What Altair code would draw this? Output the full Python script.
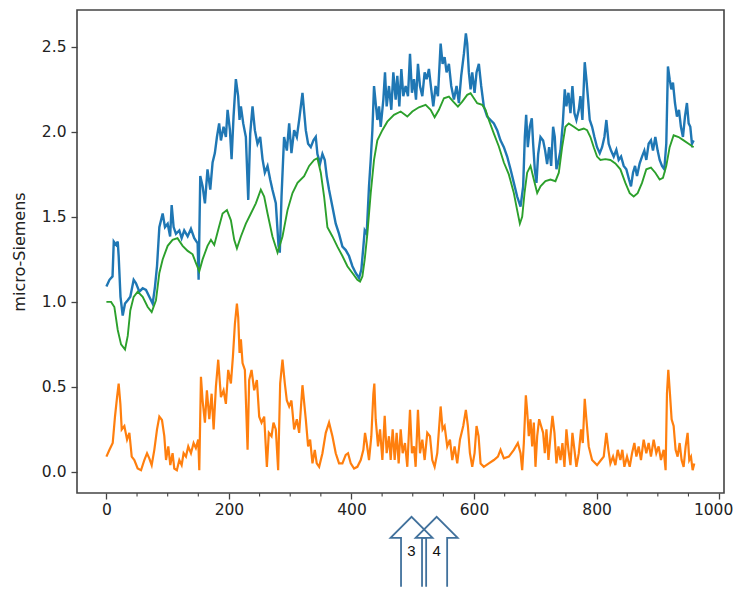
import altair as alt
import pandas as pd

# ---- data ----
blue_x = [0, 5, 10, 12, 16, 18.5, 20, 23, 26.6, 30.4, 34.8, 39, 44.5, 48.3, 53.8, 59.2, 64.6, 70, 75.5, 79.3,
          82.6, 86.4, 91.8, 95.6, 100, 104, 106.5, 109.7, 113.5, 119, 122.8, 127, 132.6, 138, 143.4, 148.9,
          150.5, 153.2, 157, 160.8, 165, 169.5, 173.3, 177, 180.4, 184, 186.9, 191.2, 195, 197.8, 201.6,
          204.3, 207.5, 211.3, 215, 217.3, 219.5, 223.3, 227.6, 231.5, 234.7, 238.5, 242.3, 246.6, 251,
          254.8, 258.6, 263, 267.3, 271, 276.5, 280.9, 283, 285.8, 290, 294.5, 298.3, 302, 306.4, 310.8,
          314.6, 320, 325.4, 329.2, 333.6, 337.9, 341.7, 344.4, 348.8, 352.6, 356.4, 359.6, 363.4, 368.9,
          374.3, 379.7, 385.2, 390.6, 396, 401.5, 406.9, 412.3, 416.1, 419.4, 421.6, 424.8, 428.6, 431.4,
          434.1, 436.8, 439.5, 442.2, 445, 447.7, 452, 454.7, 457.4, 461.2, 465, 468.3, 472.1, 474.8, 478.1,
          481.4, 484.6, 488.4, 492.2, 495.5, 498.7, 502, 505.3, 508.5, 511.8, 515.6, 519.4, 522.6, 526.4,
          530.2, 533.5, 537.3, 541.1, 545.5, 548.7, 552, 555.2, 559, 562.8, 567.2, 571.5, 575.3, 579.1,
          583.5, 586.7, 588.9, 591.6, 594.4, 597.1, 600.9, 604.1, 607.9, 611.7, 616, 621.5, 626.9, 632.4,
          637.8, 643.2, 648.7, 654.1, 659.6, 665, 670.4, 675.9, 680.2, 682.9, 685.1, 687.8, 691.1, 694.3,
          696.5, 699.2, 701.9, 704.7, 708.5, 712.8, 716.1, 719.3, 722.6, 725.9, 729.1, 731.8, 734.5, 737.3,
          741.1, 744.9, 748.1, 750.8, 754.1, 757.4, 760.6, 763.9, 767.1, 771, 773.7, 776.9, 780.7, 783.4,
          786.2, 788.9, 792.7, 796.5, 800.8, 805.2, 809, 812.8, 816, 819.8, 823.6, 828, 832.3, 836.1, 840,
          844.3, 848.6, 853, 856.2, 859.5, 862.8, 866, 870.4, 874.2, 878, 881.2, 885, 888.8, 892.1, 895.9,
          899.7, 903, 906.8, 910.6, 913.8, 916.5, 919.3, 922, 924.7, 928, 931.2, 934.5, 937.7, 941, 944.3,
          947.5, 950.3, 953, 955.7, 958.4]
blue_y = [1.09, 1.13, 1.15, 1.355, 1.335, 1.355, 1.27, 1.03, 0.92, 0.99, 1.01, 1.03, 1.13, 1.11, 1.06, 1.08, 1.07,
          1.03, 0.99, 1.09, 1.21, 1.44, 1.52, 1.44, 1.46, 1.385, 1.57, 1.44, 1.40, 1.42, 1.375, 1.42, 1.385,
          1.43, 1.375, 1.345, 1.13, 1.74, 1.68, 1.58, 1.78, 1.66, 1.82, 1.875, 1.97, 2.05, 1.95, 2.03, 1.97,
          2.13, 2.01, 1.84, 2.09, 2.31, 2.21, 2.07, 2.15, 2.05, 1.97, 1.60, 1.99, 2.15, 2.01, 1.93, 1.97,
          1.84, 1.76, 1.80, 1.72, 1.66, 1.58, 1.33, 1.29, 1.62, 1.97, 1.89, 2.05, 1.875, 2.01, 1.97, 2.07,
          2.23, 2.01, 1.93, 1.91, 1.95, 1.97, 1.87, 1.815, 1.87, 1.835, 1.74, 1.66, 1.56, 1.46, 1.40,
          1.325, 1.305, 1.27, 1.21, 1.17, 1.14, 1.19, 1.325, 1.42, 1.40, 1.68, 1.835, 2.01, 2.27, 2.17,
          2.07, 2.15, 2.03, 2.19, 2.35, 2.15, 2.27, 2.13, 2.35, 2.19, 2.33, 2.15, 2.37, 2.21, 2.27, 2.21,
          2.46, 2.23, 2.31, 2.19, 2.40, 2.27, 2.21, 2.35, 2.31, 2.37, 2.25, 2.15, 2.27, 2.21, 2.52, 2.40,
          2.44, 2.35, 2.40, 2.27, 2.19, 2.27, 2.17, 2.33, 2.46, 2.58, 2.52, 2.35, 2.25, 2.35, 2.23, 2.35,
          2.40, 2.27, 2.15, 2.09, 2.07, 2.05, 2.01, 1.95, 1.91, 1.855, 1.78, 1.70, 1.62, 1.56, 1.68, 1.97,
          2.10, 1.91, 2.03, 2.08, 1.93, 1.78, 1.70, 1.87, 1.97, 1.95, 1.89, 1.81, 1.91, 1.80, 2.03, 1.97,
          1.78, 1.82, 1.89, 2.05, 2.25, 2.15, 2.23, 2.11, 2.27, 2.11, 2.07, 2.13, 2.21, 2.07, 2.41, 2.31,
          2.19, 2.07, 2.03, 1.97, 1.91, 1.875, 1.91, 1.97, 2.07, 1.93, 1.89, 1.855, 1.895, 1.835, 1.855,
          1.80, 1.78, 1.72, 1.68, 1.76, 1.80, 1.74, 1.815, 1.855, 1.89, 1.835, 1.93, 1.95, 1.89, 1.97,
          1.89, 1.835, 1.80, 1.78, 1.93, 2.385, 2.31, 2.25, 2.29, 2.17, 2.09, 2.13, 2.03, 1.97, 2.09, 2.17,
          2.05, 2.03, 1.93, 1.95]

orange_x = [0, 5, 10.3, 14, 17.4, 20, 22.8, 25, 29.3, 33.7, 37.5, 41.3, 45.6, 51, 56.5, 61.9, 66.3, 70, 73.9,
            78.2, 82.6, 86.4, 90.7, 94.5, 97.3, 101, 104.3, 108, 110.8, 115, 119, 122.8, 126, 129.8, 133.6,
            138, 142.3, 146, 149.9, 151.6, 154.3, 157, 160.8, 164, 167.9, 171.7, 175, 178.7, 182.5, 186.9,
            191.2, 195, 198.8, 203.2, 206.5, 209.7, 213, 215.1, 217.3, 219.5, 222.2, 226, 230.4, 233, 236.9,
            241.2, 245.6, 249.4, 253.2, 257.5, 261.9, 265.1, 269.5, 272.7, 276.5, 280.3, 283.6, 287.4, 291.2,
            294.5, 298.3, 302, 306.4, 310.8, 314.6, 320, 325.4, 329.2, 332.5, 336.3, 340.1, 343.3, 347.2,
            352.6, 358, 363.4, 368.9, 374.3, 379.7, 385.2, 390.6, 394.4, 398.8, 404.2, 409.6, 415.1, 419.4,
            422.1, 424.8, 428.6, 432.4, 435.7, 437.3, 439.5, 443.3, 446.6, 450.4, 454.2, 457.4, 461.2, 464,
            467.2, 470.5, 473.7, 477, 480.3, 483.5, 487.3, 491.1, 495.5, 498.7, 502, 504.7, 508.5, 511.8,
            515.6, 519.4, 523.7, 528.1, 531.9, 535.7, 540, 545.5, 548.7, 552, 556.3, 560.7, 564.5, 568.3,
            572.6, 577, 582.4, 586.7, 590, 593.3, 597.1, 600.9, 604.1, 607.4, 610.7, 616, 624.2, 632.4, 639,
            643.3, 648.7, 656.8, 665, 671.5, 675.9, 678.6, 681.3, 684.6, 686.7, 689.4, 692.2, 694.9, 697.6,
            700.3, 703.1, 706.3, 709.5, 712.8, 715.5, 718.2, 721.5, 724.8, 728, 731.3, 734.5, 737.8, 741.1,
            744.3, 747.6, 750.8, 754.1, 757.4, 760.6, 763.9, 767.1, 771, 774.7, 777.5, 780.7, 783.4, 787.2,
            792.7, 800.8, 807.3, 811.7, 816, 819.3, 822.6, 826.9, 830.7, 834.5, 838.9, 842.1, 845.4, 849.7,
            854.1, 857.9, 861.7, 865, 868.7, 872.5, 876.9, 881.2, 885, 888.8, 893.2, 897.5, 901.3, 905.1,
            909.5, 912.7, 914.9, 917.1, 919.8, 922.5, 925.8, 929, 932.3, 935.6, 938.8, 942.1, 945.4, 948.6,
            951.3, 954.1, 956.8, 959.5]
orange_y = [0.09, 0.13, 0.17, 0.325, 0.44, 0.52, 0.40, 0.25, 0.27, 0.19, 0.23, 0.09, 0.07, 0.02, 0.01, 0.07,
            0.11, 0.08, 0.04, 0.13, 0.25, 0.325, 0.305, 0.21, 0.07, 0.15, 0.04, 0.11, 0.02, 0.01, 0.07, 0.04,
            0.11, 0.09, 0.15, 0.11, 0.17, 0.14, 0.19, 0.01, 0.56, 0.42, 0.29, 0.48, 0.31, 0.46, 0.25, 0.50,
            0.66, 0.44, 0.48, 0.40, 0.60, 0.52, 0.68, 0.87, 0.99, 0.91, 0.70, 0.78, 0.64, 0.60, 0.13, 0.54,
            0.60, 0.48, 0.54, 0.325, 0.29, 0.325, 0.03, 0.23, 0.21, 0.29, 0.25, 0.01, 0.52, 0.66, 0.52, 0.42,
            0.385, 0.42, 0.25, 0.31, 0.23, 0.51, 0.31, 0.15, 0.19, 0.05, 0.13, 0.05, 0.03, 0.11, 0.23, 0.29,
            0.21, 0.11, 0.05, 0.05, 0.10, 0.11, 0.05, 0.02, 0.03, 0.07, 0.13, 0.23, 0.17, 0.07, 0.21, 0.46,
            0.52, 0.31, 0.15, 0.25, 0.07, 0.33, 0.11, 0.21, 0.07, 0.25, 0.07, 0.23, 0.05, 0.25, 0.11, 0.17,
            0.03, 0.365, 0.11, 0.15, 0.03, 0.365, 0.11, 0.19, 0.07, 0.23, 0.21, 0.07, 0.03, 0.11, 0.385,
            0.25, 0.27, 0.15, 0.19, 0.07, 0.15, 0.05, 0.19, 0.27, 0.365, 0.27, 0.11, 0.03, 0.11, 0.27, 0.21,
            0.05, 0.03, 0.05, 0.07, 0.09, 0.13, 0.08, 0.09, 0.13, 0.17, 0.11, 0.01, 0.17, 0.45, 0.36, 0.21,
            0.31, 0.15, 0.29, 0.03, 0.21, 0.31, 0.27, 0.23, 0.11, 0.25, 0.07, 0.21, 0.33, 0.23, 0.05, 0.15,
            0.07, 0.17, 0.03, 0.25, 0.13, 0.04, 0.23, 0.13, 0.03, 0.11, 0.25, 0.17, 0.43, 0.31, 0.15, 0.07,
            0.04, 0.07, 0.09, 0.23, 0.13, 0.05, 0.09, 0.04, 0.13, 0.07, 0.13, 0.03, 0.09, 0.03, 0.11, 0.17,
            0.09, 0.15, 0.07, 0.19, 0.11, 0.17, 0.09, 0.19, 0.11, 0.15, 0.07, 0.13, 0.01, 0.46, 0.60, 0.46,
            0.31, 0.27, 0.13, 0.09, 0.17, 0.07, 0.03, 0.15, 0.23, 0.07, 0.09, 0.01, 0.05]

green_x = [0, 7.6, 13, 18.5, 23.9, 30.4, 34.8, 39, 44.5, 51, 59.2, 67.4, 73.9, 80.9, 86.4, 91.8, 100, 108, 116,
           124.4, 132.6, 140.7, 146, 151.6, 157, 165, 170.6, 176, 182.5, 189.6, 196.7, 203.2, 208.6, 213,
           219.5, 227.6, 235.8, 243.9, 252, 257.5, 263, 271, 279.3, 287.4, 295.6, 303.7, 311.9, 322.7,
           330.9, 339, 344.4, 349.9, 355.3, 360.7, 368.9, 377, 385.2, 393.3, 401.5, 409.6, 414, 417.8,
           421.6, 425.9, 431.4, 436.8, 442.2, 450.4, 458.5, 469.4, 480.3, 491.1, 499.3, 510.1, 521, 529.2,
           535.7, 542.7, 550.9, 559, 566.1, 573.7, 580.8, 588.9, 594.4, 599.8, 605.2, 613.4, 618.8, 624.2,
           632.4, 640.5, 648.7, 656.8, 665, 670.4, 674.8, 678.6, 682.4, 686.7, 692.2, 697.6, 703.1, 708.5,
           716.6, 724.8, 732.9, 738.4, 743.8, 749.2, 754.6, 762.8, 771, 779.1, 784.5, 790, 795.4, 800.8,
           806.3, 814.4, 822.6, 830.7, 838.9, 847, 854.1, 860.6, 867.1, 874.2, 881.2, 888.8, 895.9, 903,
           908.4, 913.8, 919.3, 925.8, 933.9, 942.1, 950.2, 958.4]
green_y = [1.0, 1.0, 0.97, 0.835, 0.75, 0.72, 0.80, 0.95, 1.03, 1.06, 1.03, 0.97, 0.94, 1.01, 1.17, 1.25, 1.33,
           1.365, 1.375, 1.33, 1.30, 1.28, 1.23, 1.18, 1.25, 1.33, 1.365, 1.335, 1.425, 1.52, 1.54, 1.48,
           1.365, 1.315, 1.385, 1.46, 1.52, 1.58, 1.66, 1.62, 1.52, 1.385, 1.29, 1.385, 1.54, 1.64, 1.70,
           1.74, 1.80, 1.835, 1.845, 1.76, 1.62, 1.44, 1.385, 1.325, 1.27, 1.21, 1.17, 1.13, 1.12, 1.15,
           1.25, 1.40, 1.64, 1.835, 1.95, 2.01, 2.06, 2.10, 2.12, 2.09, 2.12, 2.145, 2.159, 2.13, 2.086,
           2.13, 2.198, 2.208, 2.178, 2.149, 2.178, 2.218, 2.228, 2.198, 2.169, 2.159, 2.13, 2.07, 1.99,
           1.914, 1.82, 1.75, 1.64, 1.54, 1.46, 1.50, 1.64, 1.76, 1.80, 1.72, 1.64, 1.68, 1.71, 1.72, 1.71,
           1.76, 1.91, 2.03, 2.05, 2.03, 2.01, 2.02, 2.01, 1.97, 1.91, 1.855, 1.835, 1.84, 1.835, 1.815,
           1.78, 1.70, 1.64, 1.62, 1.64, 1.70, 1.78, 1.79, 1.76, 1.72, 1.73, 1.80, 1.91, 1.98, 1.97, 1.95,
           1.93, 1.91]

x_major = [0, 200, 400, 600, 800, 1000]
x_minor = [50, 100, 150, 250, 300, 350, 450, 500, 550, 650, 700, 750, 850, 900, 950]
y_ticks = [0.0, 0.5, 1.0, 1.5, 2.0, 2.5]

arrow_x = [498, 539]
arrow_y = [-0.47, -0.47]
arrow_label = ["3", "4"]

# ---- chart ----
W, H = 647, 483
xs = alt.Scale(domain=[-48, 1008], nice=False, zero=False)
ys = alt.Scale(domain=[-0.124, 2.717], nice=False, zero=False)

blue = pd.DataFrame({"x": blue_x, "y": blue_y})
orange = pd.DataFrame({"x": orange_x, "y": orange_y})
green = pd.DataFrame({"x": green_x, "y": green_y})
arrows = pd.DataFrame({"x": arrow_x, "y": arrow_y, "label": arrow_label})
minor = pd.DataFrame({"x": x_minor})

xaxis = alt.Axis(values=x_major, format="d", title=None, grid=False, domain=False, tickSize=6,
                 tickColor="#444", tickWidth=1.3, labelFontSize=15.5, labelColor="#222", labelPadding=3,
                 labelFont="DejaVu Sans",
                 labelOffset={"condition": {"test": "datum.value >= 1000", "value": -6}, "value": 0})
yaxis = alt.Axis(values=y_ticks, format=".1f", title="micro-Siemens", grid=False, domain=False,
                 tickSize=6, tickColor="#444", tickWidth=1.3, labelFontSize=15.5, labelColor="#222",
                 labelPadding=5, labelFont="DejaVu Sans", titleFont="DejaVu Sans", titleFontSize=16,
                 titleFontWeight="normal", titleColor="#222", titleX=-58, titleY=H / 2,
                 titleAngle=270, titleAlign="center", titleBaseline="middle")

base_blue = alt.Chart(blue).mark_line(color="#1f77b4", strokeWidth=2.4).encode(
    x=alt.X("x:Q", scale=xs, axis=xaxis),
    y=alt.Y("y:Q", scale=ys, axis=yaxis),
)
base_orange = alt.Chart(orange).mark_line(color="#ff7f0e", strokeWidth=2.2).encode(
    x=alt.X("x:Q", scale=xs), y=alt.Y("y:Q", scale=ys))
base_green = alt.Chart(green).mark_line(color="#2ca02c", strokeWidth=1.9).encode(
    x=alt.X("x:Q", scale=xs), y=alt.Y("y:Q", scale=ys))

minor_ticks = alt.Chart(minor).mark_rule(color="#444", strokeWidth=1.1).encode(
    x=alt.X("x:Q", scale=xs), y=alt.value(H), y2=alt.value(H + 3.5))

arrow_path = "M0.3,1 L0.3,-0.4 L0.6,-0.4 L0,-1 L-0.6,-0.4 L-0.3,-0.4 L-0.3,1"
arrow_marks = alt.Chart(arrows).mark_point(shape=arrow_path, size=4900, filled=False,
                                           stroke="#41719C", strokeWidth=1.8, opacity=1).encode(
    x=alt.X("x:Q", scale=xs), y=alt.Y("y:Q", scale=ys))
arrow_text = alt.Chart(arrows).mark_text(fontSize=15, font="Liberation Sans", color="#111",
                                         baseline="middle", dy=-1).encode(
    x=alt.X("x:Q", scale=xs), y=alt.Y("y:Q", scale=ys), text="label:N")

chart = alt.layer(base_blue, base_orange, base_green, minor_ticks, arrow_marks, arrow_text).properties(
    width=W, height=H,
    background="white",
    autosize=alt.AutoSizeParams(type="none"),
    padding={"left": 69, "top": 2, "right": 10, "bottom": 94},
).configure_view(stroke="#444", strokeWidth=1.6)

chart.save("out.html", embed_options={"renderer": "svg", "actions": False})
